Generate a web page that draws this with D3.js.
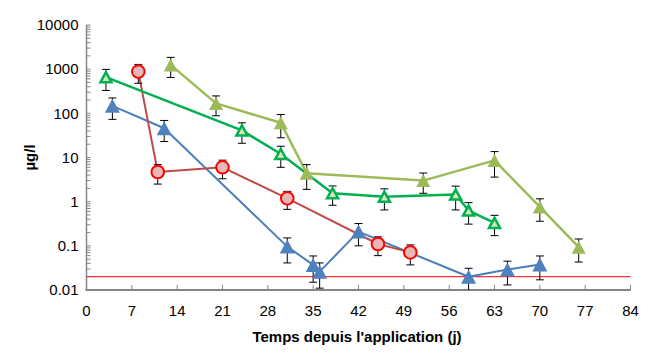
<!DOCTYPE html>
<html>
<head>
<meta charset="utf-8">
<script src="https://cdn.jsdelivr.net/npm/d3@7"></script>
<style>
  body { margin: 0; background: #fff; }
  svg { display: block; font-family: "Liberation Sans", Arial, sans-serif; }
</style>
</head>
<body>
<svg id="chart" width="650" height="353"></svg>
<script>
// Axis ticks
const dayTicks = [0, 7, 14, 21, 28, 35, 42, 49, 56, 63, 70, 77, 84];
const concTicks = [0.01, 0.1, 1, 10, 100, 1000, 10000];
const limitValue = 0.02;

// Series 1 – blue filled triangles
const blueDays = [4, 12, 31, 35, 36, 42, 59, 65, 70];
const blueVals = [148, 46, 0.096, 0.037, 0.026, 0.21, 0.02, 0.029, 0.038];
const blueErr  = [75, 23, 0.055, 0.022, 0.015, 0.11, 0.011, 0.016, 0.021];

// Series 2 – red circles
const redDays = [8, 11, 21, 31, 45, 50];
const redVals = [880, 4.7, 6.0, 1.19, 0.11, 0.071];
const redErr  = [400, 2.2, 2.7, 0.52, 0.05, 0.034];

// Series 3 – green open triangles
const greenDays = [3, 24, 30, 38, 46, 57, 59, 63];
const greenVals = [660, 41, 12, 1.55, 1.3, 1.45, 0.63, 0.33];
const greenErr  = [330, 20, 6, 0.72, 0.65, 0.8, 0.32, 0.16];

// Series 4 – olive filled triangles
const oliveDays = [13, 20, 30, 34, 52, 63, 70, 76];
const oliveVals = [1250, 168, 61, 4.4, 3.0, 8.6, 0.76, 0.093];
const oliveErr  = [600, 80, 33, 2.5, 1.45, 5, 0.4, 0.05];

const zip = (d, v, e) => d.map((x, i) => ({ x, y: v[i], e: e[i] }));

const series = [
  { pts: zip(blueDays, blueVals, blueErr), line: "#4a7ebb", lw: 2, marker: "tri",
    fill: "#4f81bd", stroke: "none", sw: 0, w: 15, h: 14 },
  { pts: zip(redDays, redVals, redErr), line: "#be4b48", lw: 2, marker: "circle",
    fill: "#e6b9b8", stroke: "#ff0000", sw: 2, r: 6.3 },
  { pts: zip(greenDays, greenVals, greenErr), line: "#00b050", lw: 2.5, marker: "tri",
    fill: "#d7e4bd", stroke: "#00b050", sw: 2.5, w: 11, h: 10 },
  { pts: zip(oliveDays, oliveVals, oliveErr), line: "#9bbb59", lw: 2.5, marker: "tri",
    fill: "#9bbb59", stroke: "none", sw: 0, w: 14, h: 13 }
];

const svg = d3.select("#chart");
const x = d3.scaleLinear().domain([0, 84]).range([86.5, 630.5]);
const y = d3.scaleLog().domain([0.01, 10000]).range([290, 25]);

const axisGrey = "#868686";

// Y axis: log minor ticks inside the plot
const minor = [];
for (let p = -2; p < 4; p++) for (let k = 2; k <= 9; k++) minor.push(k * Math.pow(10, p));
const yAxis = svg.append("g").attr("transform", `translate(${x(0)},0)`);
yAxis.selectAll("line.minor").data(minor).join("line")
  .attr("x1", 0).attr("x2", 4)
  .attr("y1", d => y(d)).attr("y2", d => y(d))
  .attr("stroke", axisGrey).attr("stroke-width", 1);
yAxis.selectAll("line.major").data(concTicks).join("line")
  .attr("x1", 0).attr("x2", 4)
  .attr("y1", d => y(d)).attr("y2", d => y(d))
  .attr("stroke", axisGrey).attr("stroke-width", 1);
yAxis.append("line")
  .attr("x1", 0).attr("x2", 0).attr("y1", y(10000)).attr("y2", y(0.01))
  .attr("stroke", axisGrey).attr("stroke-width", 1.5);
yAxis.selectAll("text").data(concTicks).join("text")
  .attr("x", -8).attr("y", d => y(d)).attr("dy", "0.35em")
  .attr("text-anchor", "end").attr("font-size", 15).attr("fill", "#000")
  .text(d => String(d));

// X axis: ticks pointing up into the plot
const xAxis = svg.append("g");
xAxis.selectAll("line.tick").data(dayTicks).join("line")
  .attr("x1", d => x(d)).attr("x2", d => x(d))
  .attr("y1", y(0.01)).attr("y2", y(0.01) - 5)
  .attr("stroke", axisGrey).attr("stroke-width", 1);
xAxis.append("line")
  .attr("x1", x(0) - 1).attr("x2", x(84)).attr("y1", y(0.01)).attr("y2", y(0.01))
  .attr("stroke", axisGrey).attr("stroke-width", 2);
xAxis.selectAll("text").data(dayTicks).join("text")
  .attr("x", d => x(d)).attr("y", 311).attr("dy", "0.35em")
  .attr("text-anchor", "middle").attr("font-size", 15).attr("fill", "#000")
  .text(d => d);

// Axis titles
svg.append("text")
  .attr("x", 357).attr("y", 342)
  .attr("text-anchor", "middle").attr("font-size", 15).attr("font-weight", "bold")
  .text("Temps depuis l'application (j)");
svg.append("text")
  .attr("transform", `translate(35,${y(10)}) rotate(-90)`)
  .attr("text-anchor", "middle").attr("font-size", 15).attr("font-weight", "bold")
  .text("µg/l");

// Limit line
svg.append("line")
  .attr("x1", x(0)).attr("x2", x(84)).attr("y1", y(limitValue)).attr("y2", y(limitValue))
  .attr("stroke", "#ff3333").attr("stroke-width", 1.2);

// Lines
const lineGen = d3.line().x(d => x(d.x)).y(d => y(d.y));
series.forEach(s => {
  svg.append("path").datum(s.pts)
    .attr("d", lineGen).attr("fill", "none")
    .attr("stroke", s.line).attr("stroke-width", s.lw).attr("stroke-linejoin", "round");
});

// Error bars (linear ± value, clipped to the axis floor)
const lo = v => Math.max(v, 0.01);
series.forEach(s => {
  const g = svg.append("g").attr("stroke", "#000").attr("stroke-width", 1);
  s.pts.forEach(p => {
    const cx = x(p.x), yt = y(p.y + p.e), yb = y(lo(p.y - p.e));
    g.append("line").attr("x1", cx).attr("x2", cx).attr("y1", yt).attr("y2", yb);
    g.append("line").attr("x1", cx - 4).attr("x2", cx + 4).attr("y1", yt).attr("y2", yt);
    if (p.y - p.e > 0.01)
      g.append("line").attr("x1", cx - 4).attr("x2", cx + 4).attr("y1", yb).attr("y2", yb);
  });
});

// Markers
series.forEach(s => {
  const g = svg.append("g");
  if (s.marker === "circle") {
    g.selectAll("circle").data(s.pts).join("circle")
      .attr("cx", d => x(d.x)).attr("cy", d => y(d.y)).attr("r", s.r)
      .attr("fill", s.fill).attr("stroke", s.stroke).attr("stroke-width", s.sw);
  } else {
    const tri = `M0,${-s.h / 2}L${s.w / 2},${s.h / 2}L${-s.w / 2},${s.h / 2}Z`;
    g.selectAll("path").data(s.pts).join("path")
      .attr("transform", d => `translate(${x(d.x)},${y(d.y)})`)
      .attr("d", tri)
      .attr("fill", s.fill).attr("stroke", s.stroke).attr("stroke-width", s.sw)
      .attr("stroke-linejoin", "miter");
  }
});
</script>
</body>
</html>
